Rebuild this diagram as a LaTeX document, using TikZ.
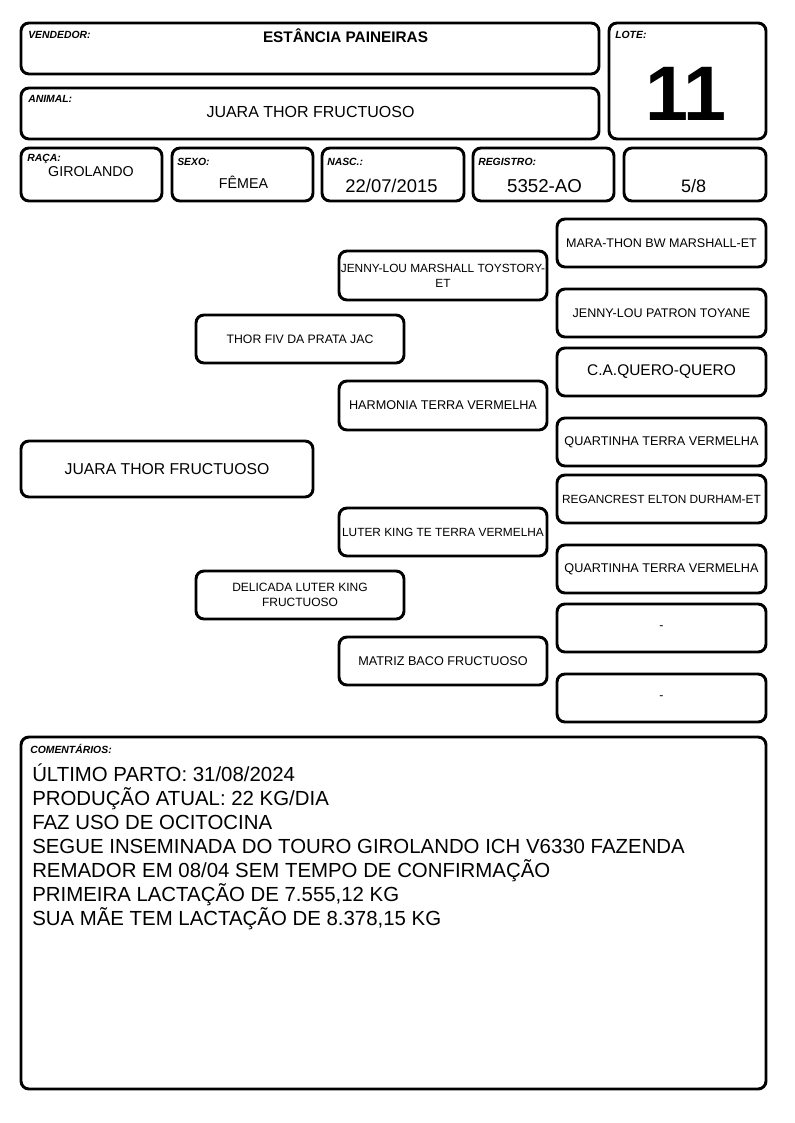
\documentclass[tikz,border=0pt]{standalone}
\usepackage{fontspec}
\setmainfont{Liberation Sans}
\tikzset{
  cell/.style={draw,line width=2.2pt,rounded corners=6pt,inner sep=0pt,align=center},
  tag/.style={font=\bfseries\itshape\fontsize{7.8}{9}\selectfont,anchor=base west,inner sep=0pt},
  val/.style={anchor=base,inner sep=0pt},
  ped/.style={font=\fontsize{9.3}{11}\selectfont},
  note/.style={anchor=base west,inner sep=0pt,font=\fontsize{15.3}{18}\selectfont},
}
% box from (x1,y1) to (x2,y2) in pixels
\newcommand{\cellbox}[7][]{\node[cell,minimum width={(#5-#3)*0.75pt},minimum height={(#6-#4)*0.75pt},#1] (#2) at ({(#3+#5)/2},{(#4+#6)/2}) {#7};}
\begin{document}
\begin{tikzpicture}[x=0.75pt,y=-0.75pt]
\useasboundingbox (0,0) rectangle (794,1123);
% header
\cellbox{vendedor}{21}{23}{599}{74}{}
\cellbox{animal}{21}{88}{599}{139}{}
\cellbox{lote}{609}{23}{766}{139}{}
\cellbox{raca}{21}{148}{162}{201}{}
\cellbox{sexo}{172}{148}{313}{201}{}
\cellbox{nasc}{322}{148}{464}{201}{}
\cellbox{registro}{473}{148}{614}{201}{}
\cellbox{grau}{624}{148}{766}{201}{}
\node[tag] (tvend) at (28,39) {VENDEDOR:};
\node[tag] (tanim) at (28,103) {ANIMAL:};
\node[tag] (tlote) at (615,39) {LOTE:};
\node[tag] (traca) at (27,162) {RAÇA:};
\node[tag] (tsexo) at (177,166) {SEXO:};
\node[tag] (tnasc) at (327,166) {NASC.:};
\node[tag] (treg) at (478,166) {REGISTRO:};
\node[val,font=\bfseries\fontsize{11.5}{13}\selectfont] (vvend) at (345.5,43) {ESTÂNCIA PAINEIRAS};
\node[val,font=\fontsize{12}{14}\selectfont] (vanim) at (310.5,118) {JUARA THOR FRUCTUOSO};
\node[val,font=\bfseries\fontsize{58}{60}\selectfont] (vlote) at (686,121) {11};
\node[val,font=\fontsize{10.7}{12}\selectfont] (vraca) at (91,177) {GIROLANDO};
\node[val,font=\fontsize{10.7}{12}\selectfont] (vsexo) at (243.5,189) {FÊMEA};
\node[val,font=\fontsize{13.8}{16}\selectfont] (vnasc) at (391.5,193) {22/07/2015};
\node[val,font=\fontsize{14}{16}\selectfont] (vreg) at (544.5,193) {5352-AO};
\node[val,font=\fontsize{13.5}{16}\selectfont] (vgrau) at (693.5,193) {5/8};
% pedigree
\cellbox[font=\fontsize{11.8}{14}\selectfont]{filha}{21}{441}{313}{497}{JUARA THOR FRUCTUOSO}
\cellbox[ped,font=\fontsize{9.2}{11}\selectfont]{pai}{196}{315}{404}{363}{THOR FIV DA PRATA JAC}
\cellbox[ped,font=\fontsize{9}{11}\selectfont]{mae}{196}{571}{404}{619}{DELICADA LUTER KING\\FRUCTUOSO}
\cellbox[ped,font=\fontsize{8.9}{11.2}\selectfont]{avop}{339}{251}{547}{300}{JENNY-LOU MARSHALL TOYSTORY-\\ET}
\cellbox[ped,font=\fontsize{9.5}{11}\selectfont]{avap}{339}{381}{547}{430}{HARMONIA TERRA VERMELHA}
\cellbox[ped,font=\fontsize{8.9}{11}\selectfont]{avom}{339}{508}{547}{556}{LUTER KING TE TERRA VERMELHA}
\cellbox[ped,font=\fontsize{9.5}{11}\selectfont]{avam}{339}{637}{547}{685}{MATRIZ BACO FRUCTUOSO}
\cellbox[ped,font=\fontsize{9.4}{11}\selectfont]{bis1}{557}{219}{766}{267}{MARA-THON BW MARSHALL-ET}
\cellbox[ped,font=\fontsize{9.4}{11}\selectfont]{bis2}{557}{289}{766}{337}{JENNY-LOU PATRON TOYANE}
\cellbox[ped,font=\fontsize{11.6}{14}\selectfont]{bis3}{557}{348}{766}{396}{C.A.QUERO-QUERO}
\cellbox[ped,font=\fontsize{9.5}{11}\selectfont]{bis4}{557}{418}{766}{466}{QUARTINHA TERRA VERMELHA}
\cellbox[ped,font=\fontsize{8.9}{11}\selectfont]{bis5}{557}{475}{766}{523}{REGANCREST ELTON DURHAM-ET}
\cellbox[ped,font=\fontsize{9.5}{11}\selectfont]{bis6}{557}{545}{766}{593}{QUARTINHA TERRA VERMELHA}
\cellbox[ped]{bis7}{557}{604}{766}{652}{-}
\cellbox[ped]{bis8}{557}{674}{766}{722}{-}
% comments
\cellbox{coment}{21}{737}{766}{1089}{}
\node[tag] (tcom) at (30,753) {COMENTÁRIOS:};
\node[note] (l1) at (32,781) {ÚLTIMO PARTO: 31/08/2024};
\node[note] (l2) at (32,805) {PRODUÇÃO ATUAL: 22 KG/DIA};
\node[note] (l3) at (32,829) {FAZ USO DE OCITOCINA};
\node[note] (l4) at (32,853) {SEGUE INSEMINADA DO TOURO GIROLANDO ICH V6330 FAZENDA};
\node[note] (l5) at (32,877) {REMADOR EM 08/04 SEM TEMPO DE CONFIRMAÇÃO};
\node[note] (l6) at (32,901) {PRIMEIRA LACTAÇÃO DE 7.555,12 KG};
\node[note] (l7) at (32,925) {SUA MÃE TEM LACTAÇÃO DE 8.378,15 KG};
\end{tikzpicture}
\end{document}
